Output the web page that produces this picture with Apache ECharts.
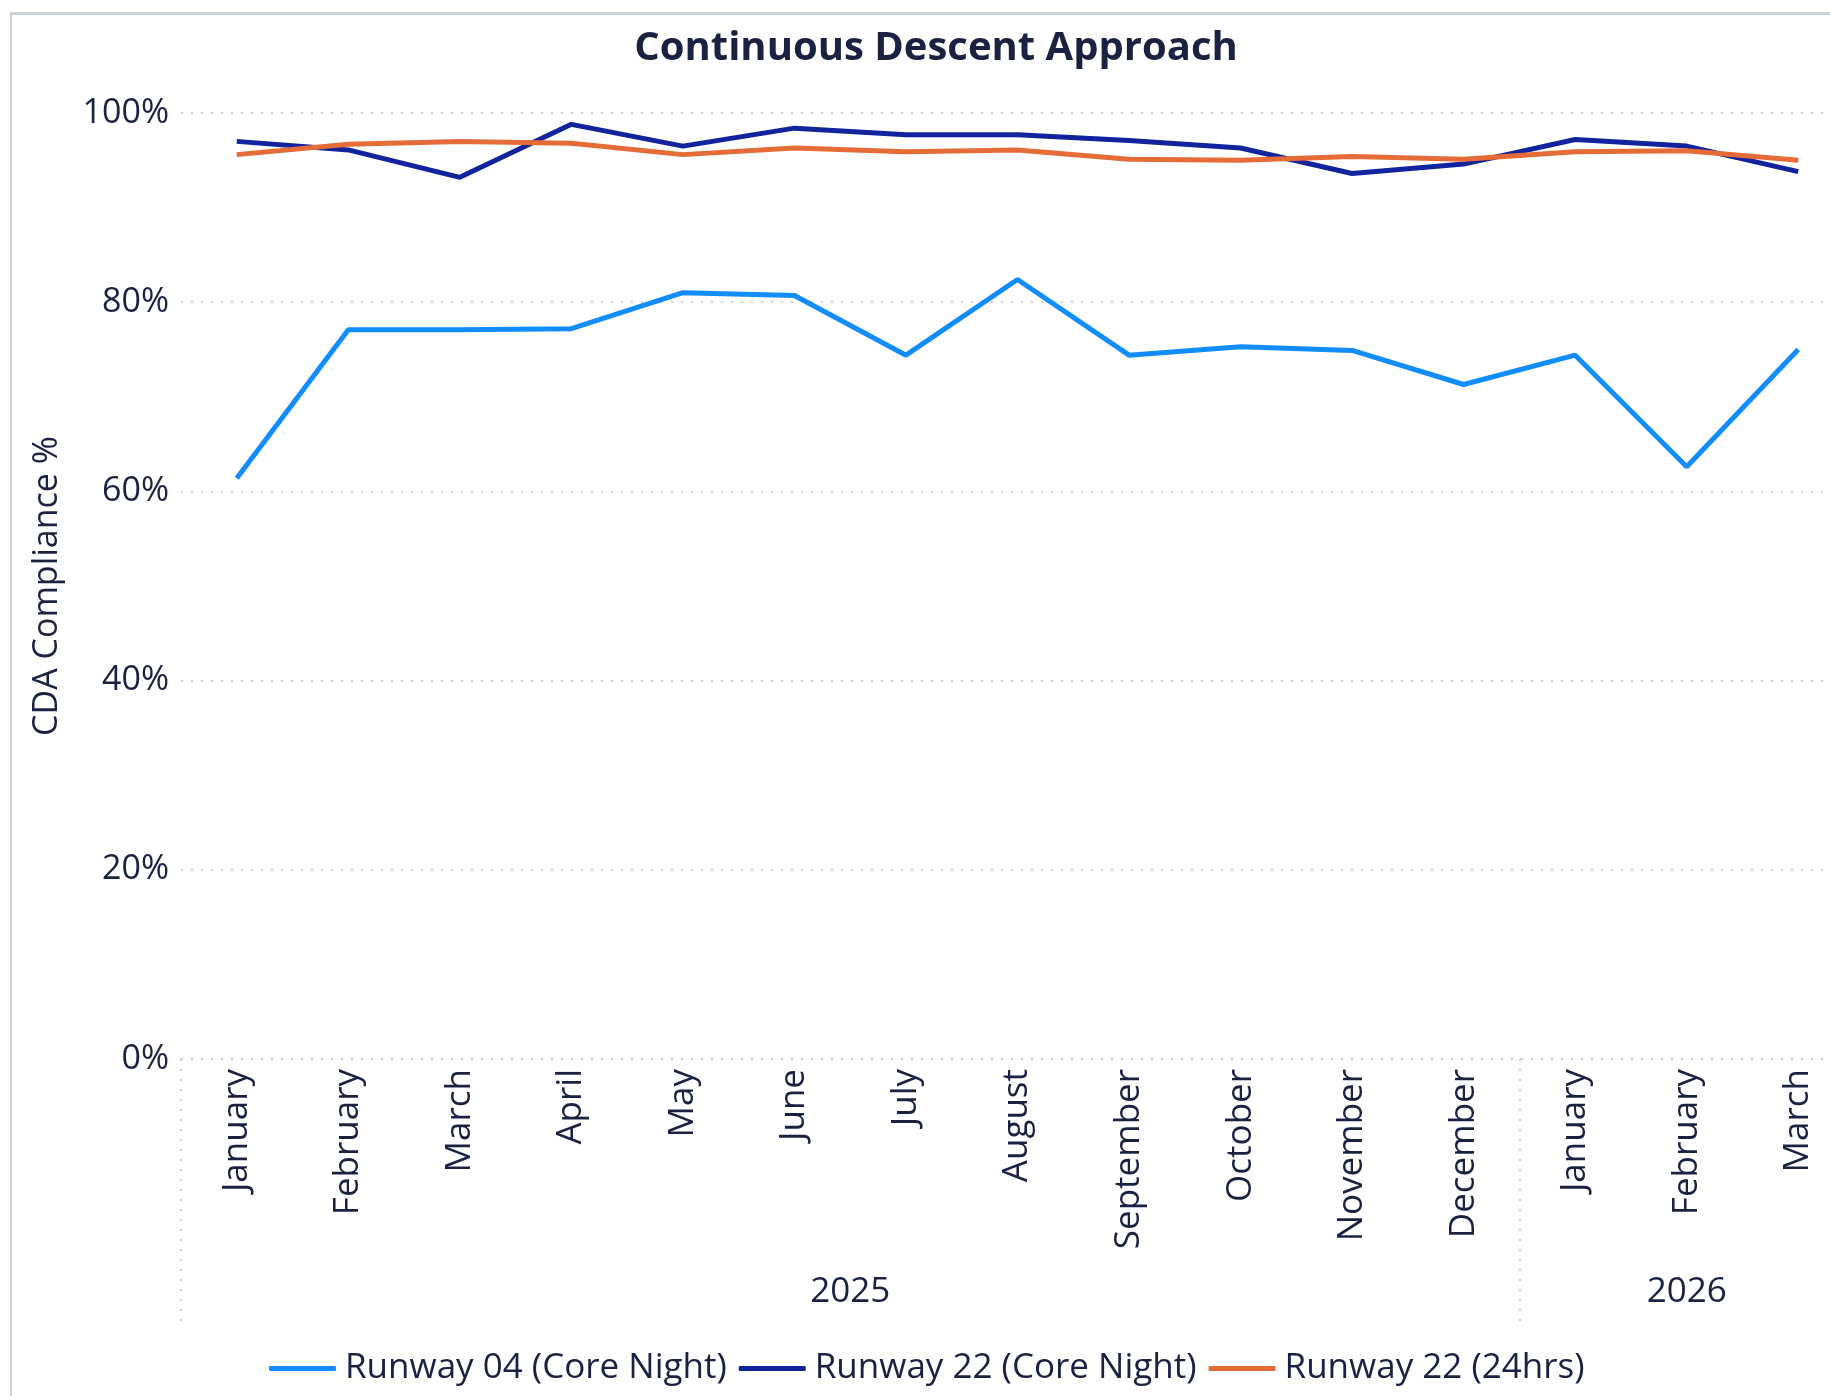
<!DOCTYPE html>
<html>
<head>
<meta charset="utf-8">
<title>Continuous Descent Approach</title>
<script src="https://cdn.jsdelivr.net/npm/echarts@6/dist/echarts.min.js"></script>
<style>
  html, body { margin: 0; padding: 0; background: #fff; overflow: hidden; }
  #frame { position: absolute; left: 10px; top: 12px; width: 1830px; height: 1396px;
           border-top: 3px solid #c9d1d9; border-left: 2px solid #c9d1d9; }
  /* the plot runs a little past the right edge of the window, as in the original */
  #chart { position: absolute; left: 0; top: 0; width: 1854px; height: 1396px; }
</style>
</head>
<body>
<div id="frame"></div>
<div id="chart"></div>
<script>
const months = ['January', 'February', 'March', 'April', 'May', 'June', 'July', 'August',
  'September', 'October', 'November', 'December', 'January', 'February', 'March']
const years = ['2025', '2026']
const monthsPerYear = [12, 3]
const yTicks = [0, 20, 40, 60, 80, 100]

const runway04Night = [61.4, 77.1, 77.1, 77.2, 81.0, 80.7, 74.4, 82.4, 74.4, 75.3, 74.9, 71.3, 74.4, 62.6, 75.0]
const runway22Night = [97.0, 96.1, 93.2, 98.8, 96.5, 98.4, 97.7, 97.7, 97.1, 96.3, 93.6, 94.6, 97.2, 96.5, 93.8]
const runway22Day = [95.6, 96.7, 97.0, 96.8, 95.6, 96.3, 95.9, 96.1, 95.1, 95.0, 95.4, 95.1, 95.9, 96.0, 95.0]

const textColor = '#1b2140'
const font = '"Open Sans", sans-serif'
const dotted = { color: '#cfcfcf', width: 2, type: [2, 8] }

// year group positions on a 0..n band scale that lines up with the month axis
const yearEdges = [0]
const yearCenters = []
monthsPerYear.forEach((n, i) => {
  yearCenters.push(yearEdges[i] + n / 2)
  yearEdges.push(yearEdges[i] + n)
})

const chart = echarts.init(document.getElementById('chart'), null, { renderer: 'canvas' })
chart.setOption({
  animation: false,
  backgroundColor: 'transparent',
  textStyle: { fontFamily: font, color: textColor },
  title: {
    text: 'Continuous Descent Approach',
    left: 931,
    textAlign: 'center',
    top: 24,
    textStyle: { fontFamily: font, fontSize: 40, fontWeight: 'bold', color: textColor }
  },
  legend: {
    bottom: 5,
    left: 264,
    icon: 'roundRect',
    itemWidth: 67,
    itemHeight: 5,
    itemGap: 12,
    textStyle: { fontFamily: font, fontSize: 35, color: textColor, padding: [0, 0, 0, 4] }
  },
  grid: {
    left: 181,
    right: 0,
    top: 113,
    bottom: 337,
    containLabel: false
  },
  xAxis: [
    {
      type: 'category',
      data: months,
      boundaryGap: true,
      axisLine: { show: false },
      axisTick: { show: false },
      axisLabel: {
        rotate: 90,
        margin: 10,
        fontFamily: font,
        fontSize: 35,
        color: textColor
      }
    },
    {
      type: 'value',
      position: 'bottom',
      min: 0,
      max: months.length,
      axisLine: { show: false },
      splitLine: { show: false },
      axisTick: {
        show: true,
        customValues: yearEdges.slice(0, -1),
        length: 264,
        lineStyle: dotted
      },
      axisLabel: {
        customValues: yearCenters,
        margin: 216,
        fontFamily: font,
        fontSize: 35,
        color: textColor,
        formatter: v => years[yearCenters.indexOf(v)] || ''
      }
    }
  ],
  yAxis: {
    type: 'value',
    min: yTicks[0],
    max: yTicks[yTicks.length - 1],
    interval: yTicks[1] - yTicks[0],
    name: 'CDA Compliance %',
    nameLocation: 'middle',
    nameGap: 117,
    nameTextStyle: { fontFamily: font, fontSize: 34, color: textColor },
    axisLine: { show: false },
    axisTick: { show: false },
    axisLabel: {
      margin: 12,
      fontFamily: font,
      fontSize: 34,
      color: textColor,
      formatter: '{value}%'
    },
    splitLine: { show: true, lineStyle: dotted }
  },
  series: [
    {
      name: 'Runway 04 (Core Night)',
      type: 'line',
      data: runway04Night,
      showSymbol: false,
      color: '#118dff',
      lineStyle: { width: 5 }
    },
    {
      name: 'Runway 22 (Core Night)',
      type: 'line',
      data: runway22Night,
      showSymbol: false,
      color: '#12239e',
      lineStyle: { width: 5 }
    },
    {
      name: 'Runway 22 (24hrs)',
      type: 'line',
      data: runway22Day,
      showSymbol: false,
      color: '#e66c37',
      lineStyle: { width: 5 }
    }
  ]
})
</script>
</body>
</html>
